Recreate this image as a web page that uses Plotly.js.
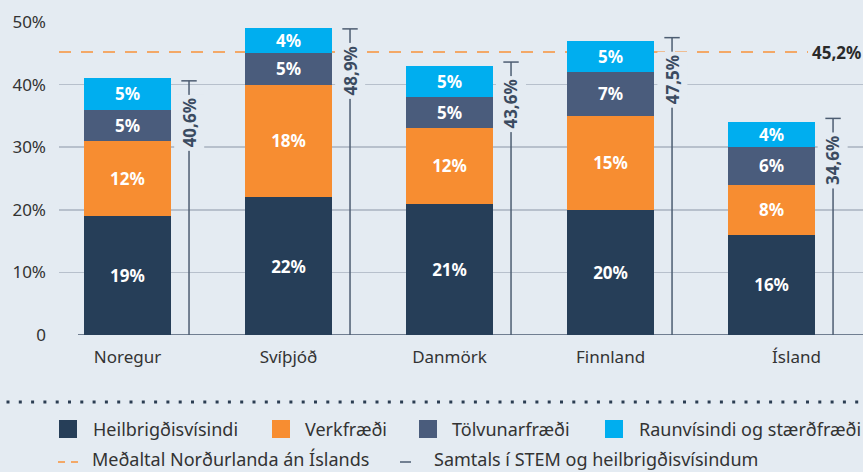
<!DOCTYPE html>
<html>
<head>
<meta charset="utf-8">
<script src="https://cdn.plot.ly/plotly-3.0.1.min.js"></script>
<style>
html,body{margin:0;padding:0;background:#e4ebf2;}
#chart{width:863px;height:472px;}
</style>
</head>
<body>
<div id="chart"></div>
<script>
// ---- data ----
const categories = ['Noregur', 'Svíþjóð', 'Danmörk', 'Finnland', 'Ísland'];
const seriesNames = ['Heilbrigðisvísindi', 'Verkfræði', 'Tölvunarfræði', 'Raunvísindi og stærðfræði'];
const heilbrigdisvisindi = [19, 22, 21, 20, 16];
const verkfraedi = [12, 18, 12, 15, 8];
const tolvunarfraedi = [5, 5, 5, 7, 6];
const raunvisindi = [5, 4, 5, 5, 4];
const totals = [40.6, 48.9, 43.6, 47.5, 34.6];
const nordicMean = 45.2;
const yTickVals = [0, 10, 20, 30, 40, 50];
const yTickText = ['0', '10%', '20%', '30%', '40%', '50%'];
const lineNames = ['Meðaltal Norðurlanda án Íslands', 'Samtals í STEM og heilbrigðisvísindum'];

// ---- styling ----
const BG = '#e4ebf2';
const colors = ['#263e58', '#f78d31', '#4a5c7c', '#00aeef'];
const totalColor = '#4d5d72';
const meanColor = '#f7923a';
const FONT = 'Noto Sans, Open Sans, sans-serif';
const M = {l: 59, r: 0, t: 22, b: 137};
const W = 863, H = 472;
const PW = W - M.l - M.r, PH = H - M.t - M.b;
const px = x => (x - M.l) / PW;           // pixel -> paper x
const py = y => (H - M.b - y) / PH;       // pixel -> paper y

const xs = categories.map((c, i) => i);
const lineOffset = 0.382;
const seriesValues = [heilbrigdisvisindi, verkfraedi, tolvunarfraedi, raunvisindi];

const traces = seriesValues.map((vals, k) => ({
  type: 'bar',
  x: xs,
  y: vals,
  name: seriesNames[k],
  width: 0.54,
  marker: {color: colors[k], line: {width: 0}},
  text: vals.map(v => v + '%'),
  textposition: 'inside',
  insidetextanchor: 'middle',
  textangle: 0,
  textfont: {family: FONT, size: 17, color: '#ffffff', weight: 'bold'},
  hoverinfo: 'skip',
  showlegend: false
}));

// total lines
const lx = [], ly = [];
totals.forEach((t, i) => { lx.push(i + lineOffset, i + lineOffset, null); ly.push(0, t, null); });
traces.push({
  type: 'scatter', mode: 'lines', x: lx, y: ly,
  line: {color: totalColor, width: 1.5}, hoverinfo: 'skip', showlegend: false
});
traces.push({
  type: 'scatter', mode: 'markers', x: xs.map(i => i + lineOffset), y: totals,
  marker: {symbol: 'line-ew', size: 11, color: totalColor, line: {color: totalColor, width: 1.5}},
  hoverinfo: 'skip', showlegend: false, cliponaxis: false
});

const fmt = v => v.toFixed(1).replace('.', ',') + '%';

const annotations = totals.map((t, i) => ({
  x: i + lineOffset, y: t, xref: 'x', yref: 'y',
  text: fmt(t), textangle: -90, showarrow: false,
  xanchor: 'center', yanchor: 'top', yshift: -14,
  bgcolor: BG, borderpad: 3,
  font: {family: FONT, size: 17, color: '#3b4b61', weight: 'bold'}
}));
annotations.push({
  x: 1, y: nordicMean, xref: 'paper', yref: 'y', text: fmt(nordicMean),
  showarrow: false, xanchor: 'right', yanchor: 'middle',
  font: {family: FONT, size: 17, color: '#2a2a2a', weight: 'bold'}
});

// custom legend
const legX = [59, 272, 419, 605];
const legTextX = [91, 303, 450, 637];
const shapes = [];
seriesNames.forEach((n, k) => {
  shapes.push({type: 'rect', xref: 'paper', yref: 'paper',
    x0: px(legX[k]), x1: px(legX[k] + 18), y0: py(438), y1: py(420),
    fillcolor: colors[k], line: {width: 0}});
  annotations.push({x: px(legTextX[k]), y: py(429), xref: 'paper', yref: 'paper',
    text: n, showarrow: false, xanchor: 'left', yanchor: 'middle',
    font: {family: FONT, size: 18, color: '#333333'}});
});
shapes.push({type: 'line', xref: 'paper', yref: 'paper', x0: px(58), x1: px(78), y0: py(462), y1: py(462),
  line: {color: meanColor, width: 1.5, dash: '7px,6px'}});
shapes.push({type: 'line', xref: 'paper', yref: 'paper', x0: px(400), x1: px(411), y0: py(462), y1: py(462),
  line: {color: totalColor, width: 1.5}});
annotations.push({x: px(91), y: py(472), xref: 'paper', yref: 'paper', text: lineNames[0], borderpad: 0,
  showarrow: false, xanchor: 'left', yanchor: 'bottom', font: {family: FONT, size: 18, color: '#333333'}});
annotations.push({x: px(433), y: py(472), xref: 'paper', yref: 'paper', text: lineNames[1], borderpad: 0,
  showarrow: false, xanchor: 'left', yanchor: 'bottom', font: {family: FONT, size: 18, color: '#333333'}});

// dotted separator
shapes.push({type: 'line', xref: 'paper', yref: 'paper', x0: px(6.5), x1: px(863), y0: py(402), y1: py(402),
  line: {color: '#2b3d52', width: 3, dash: '3px,9.3px'}});
// mean line
shapes.push({type: 'line', xref: 'paper', yref: 'y', x0: 0, x1: px(808), y0: nordicMean, y1: nordicMean,
  layer: 'below', line: {color: meanColor, width: 1.5, dash: '12px,10px'}});
// zero line
shapes.push({type: 'line', xref: 'x', yref: 'y', x0: -0.3075, x1: 4.6, y0: 0, y1: 0,
  layer: 'below', line: {color: '#4a5a70', width: 1.5}});

const tickvals = xs.map((i) => i === categories.length - 1 ? i + 0.155 : i);

const layout = {
  width: W, height: H,
  margin: M,
  paper_bgcolor: BG, plot_bgcolor: BG,
  barmode: 'stack', bargap: 0,
  showlegend: false,
  uniformtext: {mode: 'show', minsize: 17},
  font: {family: FONT, color: '#333333'},
  xaxis: {
    range: [-0.4255, 4.568], showgrid: false, zeroline: false, showline: false,
    tickvals: tickvals, ticktext: categories, ticks: '',
    tickfont: {family: FONT, size: 17, color: '#333333'}, ticklabelstandoff: 10,
    fixedrange: true
  },
  yaxis: {
    range: [0, 50], tickvals: yTickVals, ticktext: yTickText,
    showgrid: true, gridcolor: '#b7c0cc', gridwidth: 1.5, zeroline: false, showline: false,
    ticks: '', tickfont: {family: FONT, size: 17, color: '#333333'}, ticklabelstandoff: 12,
    fixedrange: true
  },
  shapes: shapes,
  annotations: annotations
};

Plotly.newPlot('chart', traces, layout, {displayModeBar: false, staticPlot: true});
</script>
</body>
</html>
